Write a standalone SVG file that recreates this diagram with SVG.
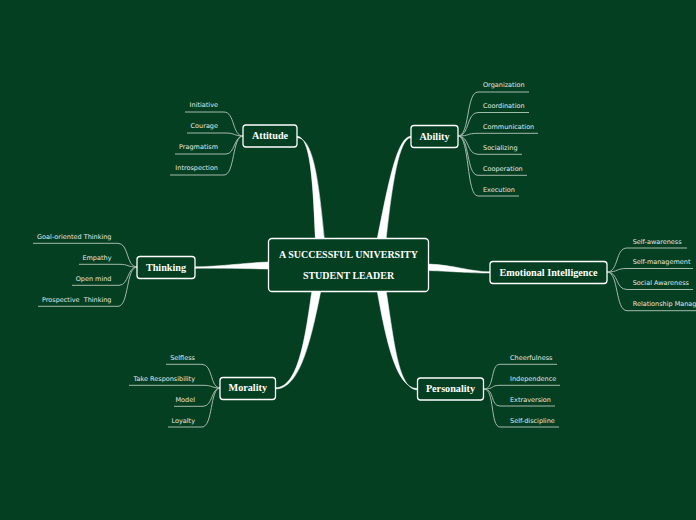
<svg xmlns="http://www.w3.org/2000/svg" width="696" height="520" viewBox="0 0 696 520">
<style>
.bg{fill:#053f22}
.node{fill:#053f22;stroke:#ffffff;stroke-width:1.3}
.tt{font-family:"Liberation Serif","Times New Roman",serif;font-weight:bold;fill:#ffffff;font-size:10.2px;text-anchor:middle}
.ct{font-family:"Liberation Serif","Times New Roman",serif;font-weight:bold;fill:#ffffff;font-size:10px;text-anchor:middle}
.st{font-family:"DejaVu Sans",Verdana,sans-serif;fill:#e2e9e3;font-size:6.5px}
.end{text-anchor:end}
.sl{fill:none;stroke:#a3b9aa;stroke-width:1}
.main{fill:#ffffff;stroke:#ffffff;stroke-width:0.5}
</style>
<rect class="bg" x="0" y="0" width="696" height="520"/>
<g id="connectors">
<path class="main" d="M297,136.3 C311,136.3 313,185 315.5,240 L324.5,240 C319,185 314,137.7 297,137.7 Z"/>
<path class="main" d="M411,136.3 C397,136.3 388,185 377,240 L386,240 C392,185 399,137.7 411,137.7 Z"/>
<path class="main" d="M195,266.8 C222,266.5 242,263 269,262 L269,269 C242,268.5 222,268 195,268.2 Z"/>
<path class="main" d="M428,264 C455,265 468,271.5 490,271.8 L490,273 C468,273 455,271.5 428,270.5 Z"/>
<path class="main" d="M312,290 C305,340 298,387.7 275.5,387.7 L275.5,389 C300,389 311,340 321,290 Z"/>
<path class="main" d="M377,290 C386,340 396,388.5 417.5,388.5 L417.5,389.8 C398,389.8 394,340 386,290 Z"/>
<path class="sl" d="M185,112 H224 C235,112 232,136 243,136"/>
<path class="sl" d="M187,133 H226 C235,133 234,136 243,136"/>
<path class="sl" d="M175,154 H226 C235,154 234,136 243,136"/>
<path class="sl" d="M170,175 H224 C235,175 232,136 243,136"/>
<path class="sl" d="M458,136 C470,136 466,92 478,92 H529"/>
<path class="sl" d="M458,136 C470,136 466,112.5 478,112.5 H529"/>
<path class="sl" d="M458,136 C470,136 466,133.3 478,133.3 H538"/>
<path class="sl" d="M458,136 C470,136 466,154.3 478,154.3 H522"/>
<path class="sl" d="M458,136 C470,136 466,175.3 478,175.3 H527"/>
<path class="sl" d="M458,136 C470,136 466,196 478,196 H519"/>
<path class="sl" d="M607,272 C619,272 615,248 627,248 H687"/>
<path class="sl" d="M607,272 C619,272 615,268.5 627,268.5 H693"/>
<path class="sl" d="M607,272 C619,272 615,289.5 627,289.5 H693"/>
<path class="sl" d="M607,272 C619,272 615,310.7 627,310.7 H700"/>
<path class="sl" d="M33,243.3 H118 C129,243.3 126,267 137,267"/>
<path class="sl" d="M79,264.3 H119 C129,264.3 127,267 137,267"/>
<path class="sl" d="M72,285.3 H119 C129,285.3 127,267 137,267"/>
<path class="sl" d="M38,306.3 H118 C129,306.3 126,267 137,267"/>
<path class="sl" d="M166,364.3 H202 C213,364.3 210,388 220,388"/>
<path class="sl" d="M129,385.3 H203 C213,385.3 211,388 220,388"/>
<path class="sl" d="M174,406.3 H203 C213,406.3 211,388 220,388"/>
<path class="sl" d="M168,427 H202 C213,427 210,388 220,388"/>
<path class="sl" d="M484,389 C495,389 490,364.3 500,364.3 H557"/>
<path class="sl" d="M484,389 C495,389 490,385.3 500,385.3 H560"/>
<path class="sl" d="M484,389 C495,389 490,406 500,406 H555"/>
<path class="sl" d="M484,389 C495,389 490,427 500,427 H559"/>
</g>
<g id="central">
<rect class="node" x="268.5" y="238.5" width="160" height="53" rx="3.5"/>
<text class="ct" x="348.5" y="258">A SUCCESSFUL UNIVERSITY</text>
<text class="ct" x="348.5" y="278.5">STUDENT LEADER</text>
</g>
<g id="attitude">
<rect class="node" x="243" y="125" width="54" height="22" rx="3"/>
<text class="tt" x="270" y="139.3">Attitude</text>
<text class="st end" x="218" y="107.3">Initiative</text>
<text class="st end" x="218" y="128.3">Courage</text>
<text class="st end" x="218" y="149.3">Pragmatism</text>
<text class="st end" x="218" y="170.3">Introspection</text>
</g>
<g id="ability">
<rect class="node" x="411" y="125.5" width="47" height="22" rx="3"/>
<text class="tt" x="434.5" y="139.5">Ability</text>
<text class="st" x="483" y="87.3">Organization</text>
<text class="st" x="483" y="108">Coordination</text>
<text class="st" x="483" y="129">Communication</text>
<text class="st" x="483" y="150">Socializing</text>
<text class="st" x="483" y="171">Cooperation</text>
<text class="st" x="483" y="191.7">Execution</text>
</g>
<g id="thinking">
<rect class="node" x="137" y="256.5" width="58" height="22" rx="3"/>
<text class="tt" x="166" y="270.5">Thinking</text>
<text class="st end" x="111.5" y="239">Goal-oriented Thinking</text>
<text class="st end" x="111.5" y="260">Empathy</text>
<text class="st end" x="111.5" y="281">Open mind</text>
<text class="st end" x="111.5" y="302" xml:space="preserve">Prospective  Thinking</text>
</g>
<g id="emotional-intelligence">
<rect class="node" x="490" y="261.5" width="117" height="22" rx="3"/>
<text class="tt" x="548.5" y="275.5">Emotional Intelligence</text>
<text class="st" x="632.7" y="243.5">Self-awareness</text>
<text class="st" x="632.7" y="264">Self-management</text>
<text class="st" x="632.7" y="285">Social Awareness</text>
<text class="st" x="632.7" y="306.4">Relationship Management</text>
</g>
<g id="morality">
<rect class="node" x="220" y="377.5" width="55.5" height="22" rx="3"/>
<text class="tt" x="247.8" y="391.3">Morality</text>
<text class="st end" x="195" y="360">Selfless</text>
<text class="st end" x="195" y="381">Take Responsibility</text>
<text class="st end" x="195" y="402">Model</text>
<text class="st end" x="195" y="422.7">Loyalty</text>
</g>
<g id="personality">
<rect class="node" x="417.5" y="378" width="66" height="22" rx="3"/>
<text class="tt" x="450.5" y="391.8">Personality</text>
<text class="st" x="510" y="360">Cheerfulness</text>
<text class="st" x="510" y="381">Independence</text>
<text class="st" x="510" y="401.7">Extraversion</text>
<text class="st" x="510" y="422.7">Self-discipline</text>
</g>
</svg>
